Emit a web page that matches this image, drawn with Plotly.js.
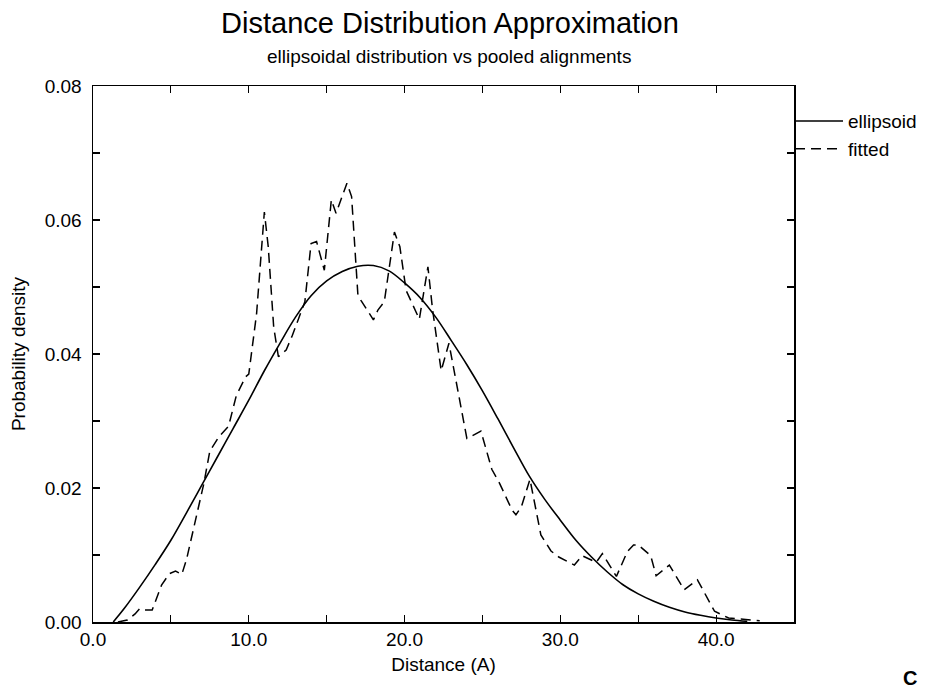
<!DOCTYPE html>
<html>
<head>
<meta charset="utf-8">
<script src="https://cdn.plot.ly/plotly-3.0.1.min.js"></script>
<style>
  html, body { margin: 0; padding: 0; background: #fff; }
  #chart { width: 934px; height: 694px; }
</style>
</head>
<body>
<div id="chart"></div>
<script>
// Ellipsoid (smooth model curve)
const ellipsoidX = [1.3, 2, 3, 4, 5, 6, 7, 8, 9, 10, 11, 12, 13, 14, 15, 16, 17, 18, 19, 20,
  21, 22, 23, 24, 25, 26, 27, 28, 29, 30, 31, 32, 33, 34, 35, 36, 37, 38, 39, 40, 41, 42];
const ellipsoidY = [0.0000, 0.0020, 0.0052, 0.0086, 0.0122, 0.0163, 0.0205, 0.0247, 0.0289, 0.0331,
  0.0375, 0.0416, 0.0455, 0.0487, 0.0509, 0.0523, 0.0531, 0.0532, 0.0524, 0.0506,
  0.0484, 0.0455, 0.0420, 0.0384, 0.0345, 0.0303, 0.0260, 0.0218, 0.0183, 0.0152,
  0.0122, 0.0097, 0.0075, 0.0056, 0.0042, 0.0031, 0.0022, 0.0015, 0.0010, 0.0006, 0.0003, 0.0001];

// Fitted (pooled alignments, jagged)
const fittedX = [1.6, 2.2, 2.7, 3.0, 3.3, 3.8, 4.4, 4.9, 5.3, 5.7, 6.0, 7.1, 7.5, 8.1, 8.7, 9.2, 9.8, 10.0,
  10.5, 11.0, 11.25, 11.6, 11.9, 12.4, 12.8, 13.6, 14.0, 14.35, 14.85, 15.3, 15.6, 16.05, 16.3, 16.6,
  17.0, 17.2, 18.0, 18.3, 18.7, 19.35, 19.7, 20.1, 20.95, 21.5, 21.8, 22.35, 22.85, 24.0, 24.2, 24.9,
  25.6, 26.1, 26.9, 27.15, 27.5, 28.05, 28.75, 29.4, 29.9, 30.9, 31.4, 32.3, 32.7, 33.6, 34.3, 34.7,
  35.0, 35.8, 36.15, 37.0, 37.95, 38.8, 39.9, 40.8, 41.7, 42.8];
const fittedY = [0.0000, 0.0003, 0.0012, 0.0020, 0.0018, 0.0018, 0.0055, 0.0072, 0.0076, 0.0071, 0.0093,
  0.0205, 0.0255, 0.0277, 0.0292, 0.0338, 0.0366, 0.0370,
  0.0460, 0.0612, 0.0560, 0.0440, 0.0396, 0.0406, 0.0428, 0.0478, 0.0565, 0.0568, 0.0525, 0.0630,
  0.0610, 0.0640, 0.0655, 0.0635, 0.0490, 0.0480, 0.0451, 0.0466, 0.0478, 0.0582, 0.0560, 0.0495,
  0.0452, 0.0530, 0.0466, 0.0375, 0.0416, 0.0274, 0.0276, 0.0285, 0.0228, 0.0207, 0.0167, 0.0160,
  0.0172, 0.0213, 0.0130, 0.0106, 0.0097, 0.0085, 0.0099, 0.0089, 0.0102, 0.0068, 0.0105, 0.0115,
  0.0115, 0.0099, 0.0069, 0.0085, 0.0048, 0.0063, 0.0016, 0.0006, 0.0004, 0.0002];

const xTickVals = [0, 10, 20, 30, 40];
const yTickVals = [0, 0.02, 0.04, 0.06, 0.08];

const FONT = '"Liberation Sans", Arial, Helvetica, sans-serif';

const traces = [
  {
    x: ellipsoidX, y: ellipsoidY, type: 'scatter', mode: 'lines', name: 'ellipsoid',
    line: { color: '#000', width: 1.6, shape: 'spline', smoothing: 1 }
  },
  {
    x: fittedX, y: fittedY, type: 'scatter', mode: 'lines', name: 'fitted',
    line: { color: '#000', width: 1.5, dash: '10px,6px' }
  }
];

const axisCommon = {
  showgrid: false, zeroline: false, showline: true, linecolor: '#000', linewidth: 1.5,
  mirror: 'ticks', ticks: 'inside', ticklen: 7, tickwidth: 1.2, tickcolor: '#000',
  tickfont: { family: FONT, size: 19, color: '#000' }
};

const layout = {
  width: 934, height: 694,
  paper_bgcolor: '#fff', plot_bgcolor: '#fff',
  margin: { l: 93, r: 138, t: 86, b: 72 },
  font: { family: FONT, color: '#000' },
  title: {
    text: 'Distance Distribution Approximation',
    font: { family: FONT, size: 29, color: '#000' },
    xref: 'container', x: 450 / 934, xanchor: 'center',
    yref: 'container', y: 1 - 23 / 694, yanchor: 'middle'
  },
  xaxis: Object.assign({}, axisCommon, {
    range: [0, 45], tickvals: xTickVals, tickformat: '.1f',
    minor: { dtick: 5, tick0: 0, ticks: 'inside', ticklen: 7, tickwidth: 1.2, tickcolor: '#000' },
    title: { text: 'Distance (A)', font: { family: FONT, size: 19, color: '#000' }, standoff: 8 }
  }),
  yaxis: Object.assign({}, axisCommon, {
    range: [0, 0.08], tickvals: yTickVals, tickformat: '.2f', ticklabelstandoff: 6,
    minor: { dtick: 0.01, tick0: 0, ticks: 'inside', ticklen: 7, tickwidth: 1.2, tickcolor: '#000' },
    title: { text: 'Probability density', font: { family: FONT, size: 19, color: '#000' }, standoff: 14 }
  }),
  showlegend: true,
  legend: {
    x: 0.9943, xref: 'paper', xanchor: 'left',
    y: 0.97, yref: 'paper', yanchor: 'top',
    font: { family: FONT, size: 19, color: '#000' },
    bgcolor: 'rgba(0,0,0,0)', borderwidth: 0,
    itemwidth: 48, traceorder: 'normal'
  },
  annotations: [
    {
      text: 'ellipsoidal distribution vs pooled alignments',
      xref: 'paper', x: (450 - 93) / 703, xanchor: 'center',
      yref: 'paper', y: 1 + 29 / 536, yanchor: 'middle',
      showarrow: false, font: { family: FONT, size: 19, color: '#000' }
    },
    {
      text: '<b>C</b>',
      xref: 'paper', x: (903 - 93) / 703, xanchor: 'left',
      yref: 'paper', y: -(678 - 622) / 536, yanchor: 'middle',
      showarrow: false, font: { family: FONT, size: 20, color: '#000' }
    }
  ]
};

Plotly.newPlot('chart', traces, layout, { displayModeBar: false, staticPlot: true });
</script>
</body>
</html>
